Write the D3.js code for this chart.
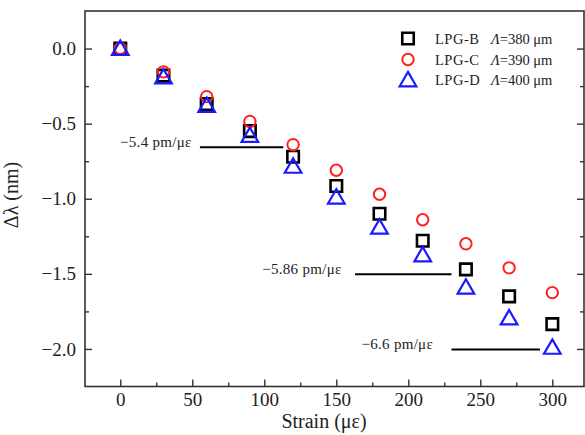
<!DOCTYPE html>
<html>
<head>
<meta charset="utf-8">
<script src="https://cdn.jsdelivr.net/npm/d3@7"></script>
<style>
  html, body { margin: 0; padding: 0; background: #fff; }
  svg { display: block; font-family: "Liberation Serif", "Times New Roman", serif; }
</style>
</head>
<body>
<svg id="chart" width="585" height="435"></svg>
<script>
// Applied strain (με)
const strain = [0, 30, 60, 90, 120, 150, 180, 210, 240, 270, 300];

// Wavelength shift Δλ (nm) for each grating
const lpgB = [0, -0.18, -0.37, -0.55, -0.72, -0.915, -1.10, -1.28, -1.47, -1.65, -1.835];
const lpgC = [0, -0.155, -0.32, -0.485, -0.64, -0.81, -0.97, -1.14, -1.30, -1.46, -1.625];
const lpgD = [0, -0.19, -0.38, -0.58, -0.785, -0.99, -1.19, -1.375, -1.59, -1.795, -1.99];

const seriesNames = ["LPG-B", "LPG-C", "LPG-D"];
const periods = ["=380 μm", "=390 μm", "=400 μm"];

// Sensitivity annotations: label, horizontal bar extent (με) and level (nm)
const slopeLabels = ["\u22125.4 pm/\u03bc\u03b5", "\u22125.86 pm/\u03bc\u03b5", "\u22126.6 pm/\u03bc\u03b5"];
const slopeStart = [55.3, 163, 230];
const slopeEnd = [113.2, 230, 291.4];
const slopeLevel = [-0.657, -1.503, -2.004];
const slopeLabelEnd = [49.6, 153.7, 217.2];

const xTicks = [0, 50, 100, 150, 200, 250, 300];
const xMinor = [25, 75, 125, 175, 225, 275];
const yTicks = [0, -0.5, -1.0, -1.5, -2.0];
const yMinor = [-0.25, -0.75, -1.25, -1.75];

const svg = d3.select("#chart");
const plotLeft = 85, plotRight = 584, plotTop = 11, plotBottom = 386.5;

const x = d3.scaleLinear().domain([-24.5, 322]).range([plotLeft, plotRight]);
const y = d3.scaleLinear().domain([0.25, -2.25]).range([plotTop, plotBottom]);

const axisColor = "#333";
const fmtY = d3.format(".1f");

// Frame
svg.append("rect")
  .attr("x", plotLeft).attr("y", plotTop)
  .attr("width", plotRight - plotLeft).attr("height", plotBottom - plotTop)
  .attr("fill", "none").attr("stroke", axisColor).attr("stroke-width", 1.6);

// Inward ticks on bottom, left and right sides
function drawTicks(axis, translate, values, size) {
  const g = svg.append("g").attr("transform", translate)
    .call(axis.tickValues(values).tickSize(size).tickFormat(""));
  g.select(".domain").remove();
  g.selectAll(".tick line").attr("stroke", axisColor).attr("stroke-width", 1.4);
  return g;
}
drawTicks(d3.axisTop(x), `translate(0,${plotBottom})`, xTicks, 7);
drawTicks(d3.axisTop(x), `translate(0,${plotBottom})`, xMinor, 4);
drawTicks(d3.axisRight(y), `translate(${plotLeft},0)`, yTicks, 7);
drawTicks(d3.axisRight(y), `translate(${plotLeft},0)`, yMinor, 4);
drawTicks(d3.axisLeft(y), `translate(${plotRight},0)`, yTicks, 7);
drawTicks(d3.axisLeft(y), `translate(${plotRight},0)`, yMinor, 4);

// Tick labels
const xl = svg.append("g").attr("transform", `translate(0,${plotBottom})`)
  .call(d3.axisBottom(x).tickValues(xTicks).tickSize(0).tickPadding(6));
xl.select(".domain").remove();
xl.selectAll("text").attr("font-family", "Liberation Serif").attr("font-size", 19).attr("fill", "#222");

const yl = svg.append("g").attr("transform", `translate(${plotLeft},0)`)
  .call(d3.axisLeft(y).tickValues(yTicks).tickSize(0).tickPadding(9).tickFormat(fmtY));
yl.select(".domain").remove();
yl.selectAll("text").attr("font-family", "Liberation Serif").attr("font-size", 19).attr("fill", "#222");

// Axis titles
svg.append("text")
  .attr("x", 324).attr("y", 428)
  .attr("text-anchor", "middle").attr("font-size", 20).attr("fill", "#222")
  .text("Strain (\u03bc\u03b5)");
svg.append("text")
  .attr("transform", "translate(18,195) rotate(-90)")
  .attr("text-anchor", "middle").attr("font-size", 20).attr("fill", "#222")
  .text("\u0394\u03bb (nm)");

// Sensitivity bars and labels
slopeLabels.forEach((label, i) => {
  svg.append("line")
    .attr("x1", x(slopeStart[i])).attr("x2", x(slopeEnd[i]))
    .attr("y1", y(slopeLevel[i])).attr("y2", y(slopeLevel[i]))
    .attr("stroke", "#000").attr("stroke-width", 2);
  svg.append("text")
    .attr("x", x(slopeLabelEnd[i])).attr("y", y(slopeLevel[i]) - 0.5)
    .attr("text-anchor", "end").attr("font-size", 15).attr("fill", "#222")
    .attr("letter-spacing", 0.3)
    .text(label);
});

// Marker shapes
const sq = d3.symbol().type(d3.symbolSquare).size(132);
const tri = d3.symbol().type(d3.symbolTriangle).size(120);

const squareStyle = s => s.attr("d", sq).attr("fill", "none").attr("stroke", "#000").attr("stroke-width", 2.6);
const circleStyle = s => s.attr("r", 5.7).attr("fill", "none").attr("stroke", "#ff2020").attr("stroke-width", 2);
const triangleStyle = s => s.attr("d", tri).attr("fill", "none").attr("stroke", "#1a1aff").attr("stroke-width", 2.2);

svg.append("g").selectAll("path").data(lpgB).join("path")
  .call(squareStyle)
  .attr("transform", (d, i) => `translate(${x(strain[i])},${y(d)})`);
svg.append("g").selectAll("circle").data(lpgC).join("circle")
  .call(circleStyle)
  .attr("cx", (d, i) => x(strain[i])).attr("cy", d => y(d));
svg.append("g").selectAll("path").data(lpgD).join("path")
  .call(triangleStyle)
  .attr("transform", (d, i) => `translate(${x(strain[i])},${y(d) + 1.5})`);

// Legend
const legendY = [38.5, 59.5, 80];
const legendMarker = 408;
const legend = svg.append("g");
legend.append("path").call(squareStyle)
  .attr("transform", `translate(${legendMarker},${legendY[0]})`);
legend.append("circle").call(circleStyle)
  .attr("cx", legendMarker).attr("cy", legendY[1]);
legend.append("path").call(triangleStyle)
  .attr("transform", `translate(${legendMarker},${legendY[2] + 1.5})`);

seriesNames.forEach((name, i) => {
  legend.append("text")
    .attr("x", 435).attr("y", legendY[i] + 5)
    .attr("font-size", 14.5).attr("fill", "#222")
    .attr("letter-spacing", 0.5)
    .text(name);
  const t = legend.append("text")
    .attr("x", 491).attr("y", legendY[i] + 5)
    .attr("font-size", 14.5).attr("fill", "#222");
  t.append("tspan").attr("font-style", "italic").text("\u039b");
  t.append("tspan").text(periods[i]);
});
</script>
</body>
</html>
